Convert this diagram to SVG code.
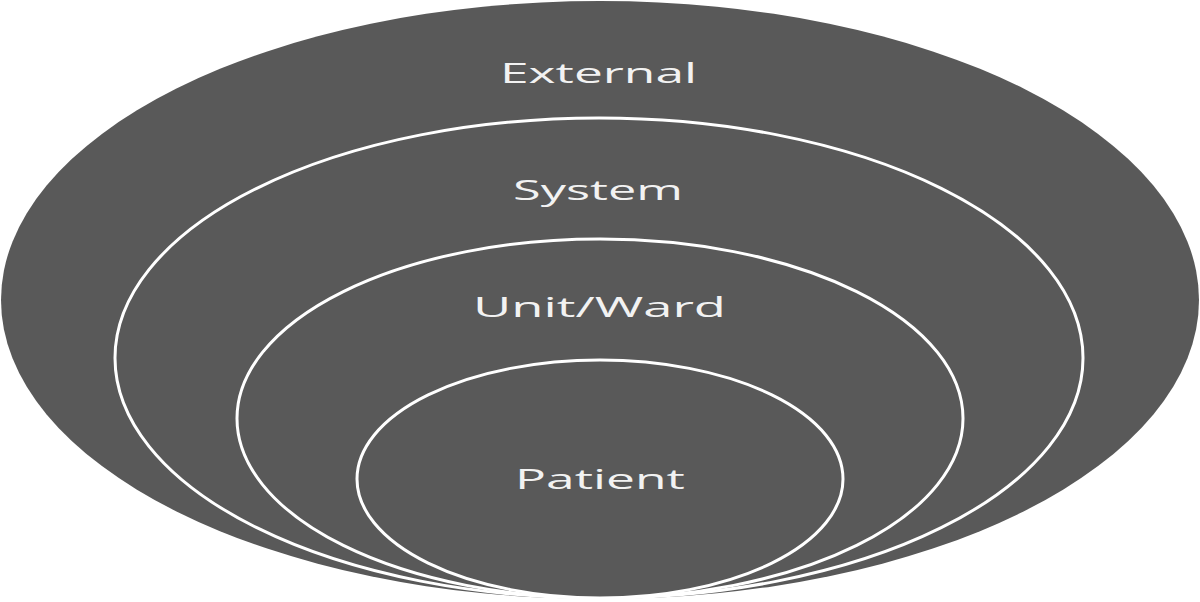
<svg xmlns="http://www.w3.org/2000/svg" width="1200" height="602" viewBox="0 0 1200 602">
  <style>
    .ring { fill: #595959; stroke: #ffffff; stroke-width: 3; }
    .outer { fill: #595959; stroke: none; }
    .lbl { font-family: "Open Sans", "Liberation Sans", sans-serif; font-size: 27px; fill: #f2f2f2; }
  </style>
  <rect width="1200" height="602" fill="#ffffff"/>
  <g id="external">
    <ellipse class="outer" cx="600" cy="300" rx="599" ry="299"/>
    <text class="lbl" x="500" y="83" textLength="197" lengthAdjust="spacingAndGlyphs">External</text>
  </g>
  <g id="system">
    <ellipse class="ring" cx="599" cy="358" rx="484" ry="240"/>
    <text class="lbl" x="513" y="200" textLength="170" lengthAdjust="spacingAndGlyphs">System</text>
  </g>
  <g id="unit-ward">
    <ellipse class="ring" cx="600" cy="418.5" rx="363" ry="179.5"/>
    <text class="lbl" x="473" y="317" textLength="253" lengthAdjust="spacingAndGlyphs">Unit/Ward</text>
  </g>
  <g id="patient">
    <ellipse class="ring" cx="600" cy="479" rx="243" ry="119"/>
    <text class="lbl" x="515" y="489" textLength="170" lengthAdjust="spacingAndGlyphs">Patient</text>
  </g>
  <g id="connectors"></g>
</svg>
